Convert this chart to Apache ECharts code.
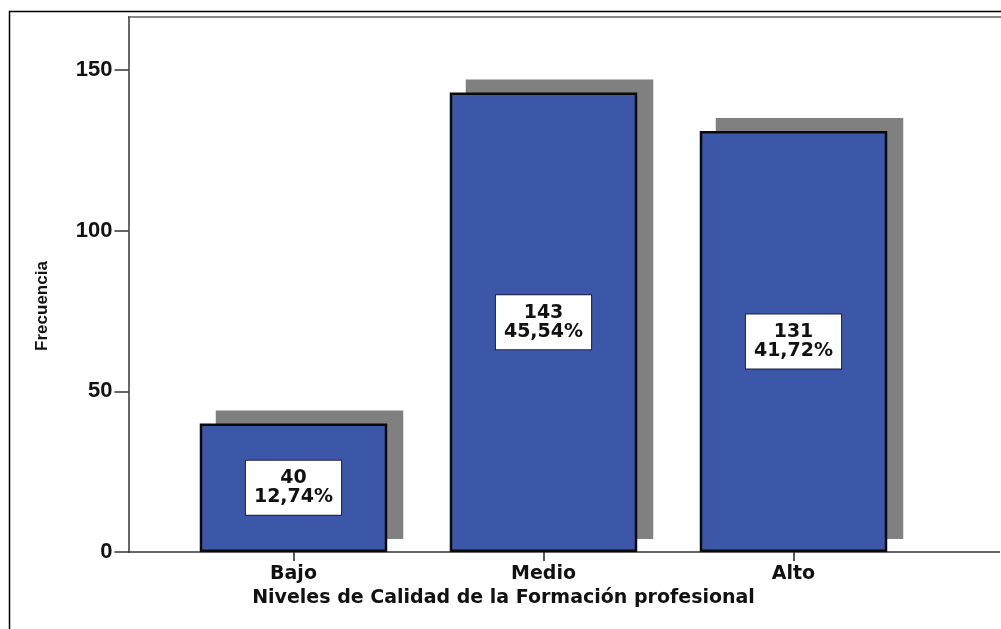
<!DOCTYPE html>
<html>
<head>
<meta charset="utf-8">
<script src="https://cdn.jsdelivr.net/npm/echarts@6/dist/echarts.min.js"></script>
<style>
  html, body { margin: 0; padding: 0; background: #fff; }
  #chart { width: 1001px; height: 629px; }
</style>
</head>
<body>
<div id="chart"></div>
<script>
const categories = ['Bajo', 'Medio', 'Alto']
const counts = [40, 143, 131]
const percents = ['12,74%', '45,54%', '41,72%']
const yTicks = [0, 50, 100, 150]

const chart = echarts.init(document.getElementById('chart'))

const axisFont = { fontFamily: 'Liberation Sans', fontWeight: 'bold', color: '#111' }

chart.setOption({
  animation: false,
  grid: { left: 168.5, right: 82.5, top: 17, bottom: 77, containLabel: false },
  xAxis: {
    type: 'category',
    data: categories,
    axisLine: { show: false },
    axisTick: { show: true, alignWithLabel: true, length: 9, lineStyle: { color: '#222', width: 1.5 } },
    axisLabel: { margin: 13, fontSize: 19, fontFamily: 'DejaVu Sans', fontWeight: 'bold', color: '#111' },
    name: 'Niveles de Calidad de la Formación profesional',
    nameLocation: 'middle',
    nameGap: 31,
    nameTextStyle: { fontSize: 19, fontFamily: 'DejaVu Sans', fontWeight: 'bold', color: '#111', padding: [0, 80, 0, 0] }
  },
  yAxis: {
    type: 'value',
    min: 0,
    max: 166.5,
    interval: 50,
    offset: 40,
    splitLine: { show: false },
    axisLine: { show: true, lineStyle: { color: '#333', width: 1.5 } },
    axisTick: { show: true, length: 14, customValues: yTicks, lineStyle: { color: '#333', width: 1.5 } },
    axisLabel: { margin: 16, fontSize: 22, customValues: yTicks, ...axisFont },
    name: 'Frecuencia',
    nameLocation: 'middle',
    nameGap: 78,
    nameTextStyle: { fontSize: 17, ...axisFont, padding: [0, 43, 0, 0] }
  },
  graphic: [
    { type: 'rect', shape: { x: 9.5, y: 11.5, width: 1100, height: 700 }, style: { fill: null, stroke: '#000', lineWidth: 1.5 }, silent: true },
    { type: 'line', shape: { x1: 128, y1: 17, x2: 1001, y2: 17 }, style: { stroke: '#888', lineWidth: 2 }, silent: true },
    { type: 'line', shape: { x1: 128, y1: 552, x2: 1000, y2: 552 }, style: { stroke: '#333', lineWidth: 1.5 }, silent: true }
  ],
  series: [
    {
      // drop shadow behind each bar
      type: 'custom',
      z: 1,
      silent: true,
      data: categories.map((c, i) => [i, counts[i]]),
      renderItem(params, api) {
        const base = api.coord([api.value(0), 0])
        const top = api.coord([api.value(0), api.value(1)])
        const w = api.size([1, 0])[0] * 0.75
        return {
          type: 'rect',
          shape: { x: top[0] - w / 2 + 16, y: top[1] - 13, width: w, height: base[1] - top[1] },
          style: { fill: '#808080' }
        }
      }
    },
    {
      type: 'bar',
      z: 3,
      data: counts,
      barWidth: '75%',
      itemStyle: { color: '#3d57a8', borderColor: '#0a0a0a', borderWidth: 2.5 },
      label: {
        show: true,
        position: 'inside',
        formatter: p => p.value + '\n' + percents[p.dataIndex],
        fontFamily: 'DejaVu Sans',
        fontWeight: 'bold',
        fontSize: 19,
        lineHeight: 19,
        color: '#111',
        backgroundColor: '#fff',
        borderColor: '#1c1c3c',
        borderWidth: 1,
        padding: [8, 8, 8, 8]
      }
    }
  ]
})
</script>
</body>
</html>
